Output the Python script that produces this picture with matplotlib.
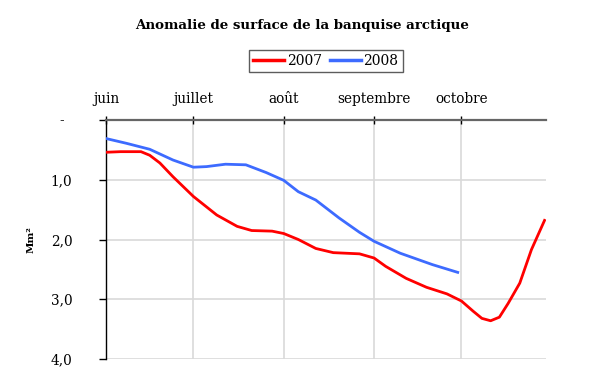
import numpy as np
import matplotlib
matplotlib.use("Agg")
import matplotlib.pyplot as plt

plt.rcParams['font.family'] = ['DejaVu Serif']

# days counted from 1 June
month_days = [0, 30, 61, 92, 122]
month_labels = ["juin", "juillet", "août", "septembre", "octobre"]

y_ticks = [0, 1, 2, 3, 4]
y_labels = ["-", "1,0", "2,0", "3,0", "4,0"]

days_2007 = [0, 5, 12, 15, 18.5, 23, 30, 38, 45, 50, 57, 61, 66, 72, 78, 87, 92,
             96, 103, 110, 117, 122, 126, 129, 132, 135, 138, 142, 146, 150.5]
anom_2007 = [0.54, 0.53, 0.53, 0.59, 0.72, 0.95, 1.28, 1.59, 1.78, 1.85, 1.86, 1.90, 2.00,
             2.15, 2.22, 2.24, 2.31, 2.45, 2.65, 2.80, 2.91, 3.03, 3.20, 3.32, 3.36,
             3.30, 3.07, 2.73, 2.17, 1.68]

days_2008 = [0, 7, 15, 23, 30, 34.5, 41, 48, 55, 61, 66, 72, 80, 87, 92, 101, 112, 120.7]
anom_2008 = [0.31, 0.39, 0.49, 0.67, 0.79, 0.78, 0.74, 0.75, 0.88, 1.01, 1.20, 1.34,
             1.64, 1.88, 2.03, 2.23, 2.42, 2.55]

fig = plt.figure(figsize=(6, 3.86), dpi=100)
ax = fig.add_axes([106/600, 1-359/386, (546-106)/600, (359-120)/386])

ax.plot(days_2007, anom_2007, color="#ff0000", lw=2.0, label="2007", zorder=3,
        solid_joinstyle='round')
ax.plot(days_2008, anom_2008, color="#3d6bff", lw=2.0, label="2008", zorder=3,
        solid_joinstyle='round')

ax.set_xlim(0, 151)
ax.set_ylim(4, 0)

ax.xaxis.tick_top()
ax.set_xticks(month_days)
ax.set_xticklabels(month_labels, fontsize=9.8)
ax.tick_params(axis='x', direction='inout', length=6, width=1, color='black', pad=7)

ax.set_yticks(y_ticks)
ax.set_yticklabels(y_labels, fontsize=9.8, ha='center')
ax.tick_params(axis='y', direction='out', length=5, width=1, color='black', pad=27)

ax.grid(True, color='#d9d9d9', lw=1.2, zorder=0)
ax.set_axisbelow(True)

for s in ['right', 'bottom']:
    ax.spines[s].set_visible(False)
ax.spines['top'].set_color('#666666')
ax.spines['top'].set_linewidth(1.6)
ax.spines['left'].set_color('black')
ax.spines['left'].set_linewidth(1.0)

ax.set_ylabel("Mm²", fontsize=7.5, fontweight='bold', labelpad=11)

fig.text(0.503, 0.935, "Anomalie de surface de la banquise arctique",
         ha='center', va='center', fontsize=9.6, fontweight='bold')

leg = fig.legend(loc='center', bbox_to_anchor=(0.543, 0.842), ncol=2, fontsize=10,
                 frameon=True, fancybox=False, edgecolor='#333333', handlelength=2.2,
                 handletextpad=0.2, columnspacing=0.6, borderpad=0.3, borderaxespad=0)
leg.get_frame().set_linewidth(1.0)
for line in leg.get_lines():
    line.set_linewidth(2.5)

fig.savefig("out.png", dpi=100)
